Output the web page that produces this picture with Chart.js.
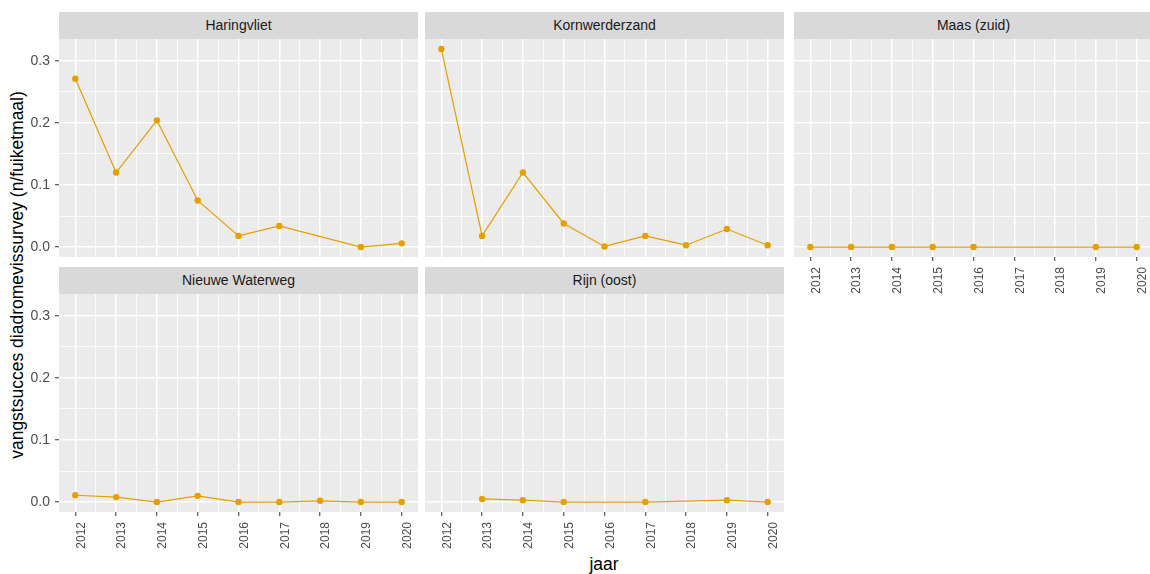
<!DOCTYPE html>
<html>
<head>
<meta charset="utf-8">
<script src="https://cdn.jsdelivr.net/npm/chart.js@4.4.0/dist/chart.umd.min.js"></script>
<style>
  body { margin: 0; background: #fff; overflow: hidden; font-family: "Liberation Sans", Arial, sans-serif; }
  #wrap { position: relative; width: 1150px; height: 574px; overflow: hidden; }
  .strip { position: absolute; background: #d9d9d9; color: #1a1a1a; font-size: 14px; text-align: center; }
  .panel { position: absolute; }
  #ytitle { position: absolute; left: 17px; top: 275px; transform: translate(-50%, -50%) rotate(-90deg); white-space: nowrap; font-size: 17.5px; color: #000; }
  #xtitle { position: absolute; left: 604px; top: 554px; transform: translateX(-50%); font-size: 17.5px; color: #000; }
</style>
</head>
<body>
<div id="wrap">
  <div id="ytitle">vangstsucces diadromevissurvey (n/fuiketmaal)</div>
  <div id="xtitle">jaar</div>
</div>
<script>
// data
const years = [2012, 2013, 2014, 2015, 2016, 2017, 2018, 2019, 2020];
const haringvliet    = [0.271, 0.120, 0.204, 0.075, 0.018, 0.034, null, 0.000, 0.006];
const kornwerderzand = [0.319, 0.018, 0.120, 0.038, 0.001, 0.018, 0.003, 0.029, 0.003];
const maasZuid       = [0.000, 0.000, 0.000, 0.000, 0.000, null, null, 0.000, 0.000];
const nieuweWaterweg = [0.011, 0.008, 0.000, 0.010, 0.000, 0.000, 0.002, 0.000, 0.000];
const rijnOost       = [null, 0.005, 0.003, 0.000, null, 0.000, null, 0.003, 0.000];
const yTicks = [0, 0.1, 0.2, 0.3];

const LINE = '#E69F00';

// layout of the facet grid
const colLeft = [59, 425, 794];
const rowTop = [39, 294];
const plotW = 359, plotH = 218, stripH = 27, yAxisW = 59, xAxisH = 46;

const panels = [
  { name: 'Haringvliet',     values: haringvliet,    col: 0, row: 0, showX: false },
  { name: 'Kornwerderzand',  values: kornwerderzand, col: 1, row: 0, showX: false },
  { name: 'Maas (zuid)',     values: maasZuid,       col: 2, row: 0, showX: true },
  { name: 'Nieuwe Waterweg', values: nieuweWaterweg, col: 0, row: 1, showX: true },
  { name: 'Rijn (oost)',     values: rijnOost,       col: 1, row: 1, showX: true }
];

// major + minor grid positions (ggplot style)
const xGrid = [];
years.forEach((y, i) => { xGrid.push(y); if (i < years.length - 1) xGrid.push(y + 0.5); });
const yGrid = [];
yTicks.forEach((v, i) => { yGrid.push(v); if (i < yTicks.length - 1) yGrid.push((v + yTicks[i + 1]) / 2); });

const panelBg = {
  id: 'panelBg',
  beforeDraw(chart) {
    const a = chart.chartArea;
    const c = chart.ctx;
    c.save();
    c.fillStyle = '#EBEBEB';
    c.fillRect(a.left, a.top, a.right - a.left, a.bottom - a.top);
    c.restore();
  }
};

const wrap = document.getElementById('wrap');
const font = '"Liberation Sans", Arial, sans-serif';

panels.forEach(p => {
  const showY = p.col === 0;
  const left = colLeft[p.col], top = rowTop[p.row];

  const strip = document.createElement('div');
  strip.className = 'strip';
  strip.style.left = left + 'px';
  strip.style.top = (top - stripH) + 'px';
  strip.style.width = plotW + 'px';
  strip.style.height = stripH + 'px';
  strip.style.lineHeight = stripH + 'px';
  strip.textContent = p.name;
  wrap.appendChild(strip);

  const box = document.createElement('div');
  box.className = 'panel';
  const yw = showY ? yAxisW : 0;
  box.style.left = (left - yw) + 'px';
  box.style.top = top + 'px';
  box.style.width = (plotW + yw) + 'px';
  box.style.height = (plotH + (p.showX ? xAxisH : 0)) + 'px';
  const canvas = document.createElement('canvas');
  box.appendChild(canvas);
  wrap.appendChild(box);

  new Chart(canvas.getContext('2d'), {
    type: 'line',
    data: {
      datasets: [{
        data: years.map((y, i) => ({ x: y, y: p.values[i] })),
        borderColor: LINE,
        backgroundColor: LINE,
        borderWidth: 1.2,
        pointRadius: 3.2,
        pointBorderWidth: 0,
        spanGaps: true,
        tension: 0
      }]
    },
    options: {
      responsive: true,
      maintainAspectRatio: false,
      animation: false,
      layout: { padding: 0, autoPadding: false },
      plugins: { legend: { display: false }, tooltip: { enabled: false } },
      scales: {
        x: {
          type: 'linear',
          min: 2011.6,
          max: 2020.4,
          afterBuildTicks: s => { s.ticks = xGrid.map(v => ({ value: v })); },
          afterFit: s => {
            s.height = p.showX ? xAxisH : 0;
            s.paddingLeft = 0;
            s.paddingRight = 0;
          },
          border: { display: false },
          grid: {
            color: '#ffffff',
            lineWidth: ctx => Number.isInteger(ctx.tick.value) ? 1.5 : 0.8,
            drawTicks: p.showX,
            tickLength: 4,
            tickWidth: 1,
            tickColor: ctx => Number.isInteger(ctx.tick.value) ? '#333333' : 'rgba(0,0,0,0)'
          },
          ticks: {
            display: p.showX,
            autoSkip: false,
            minRotation: 90,
            maxRotation: 90,
            padding: 6,
            labelOffset: 6,
            color: '#4D4D4D',
            font: { family: font, size: 12 },
            callback: v => Number.isInteger(v) ? String(v) : ''
          }
        },
        y: {
          min: -0.016,
          max: 0.335,
          afterBuildTicks: s => { s.ticks = yGrid.map(v => ({ value: v })); },
          afterFit: s => {
            s.width = showY ? yAxisW : 0;
            s.paddingTop = 0;
            s.paddingBottom = 0;
          },
          border: { display: false },
          grid: {
            color: '#ffffff',
            lineWidth: ctx => yTicks.includes(ctx.tick.value) ? 1.5 : 0.8,
            drawTicks: showY,
            tickLength: 4,
            tickWidth: 1,
            tickColor: ctx => yTicks.includes(ctx.tick.value) ? '#333333' : 'rgba(0,0,0,0)'
          },
          ticks: {
            display: showY,
            padding: 5,
            color: '#4D4D4D',
            font: { family: font, size: 14 },
            callback: v => yTicks.includes(v) ? v.toFixed(1) : ''
          }
        }
      }
    },
    plugins: [panelBg]
  });
});
</script>
</body>
</html>
